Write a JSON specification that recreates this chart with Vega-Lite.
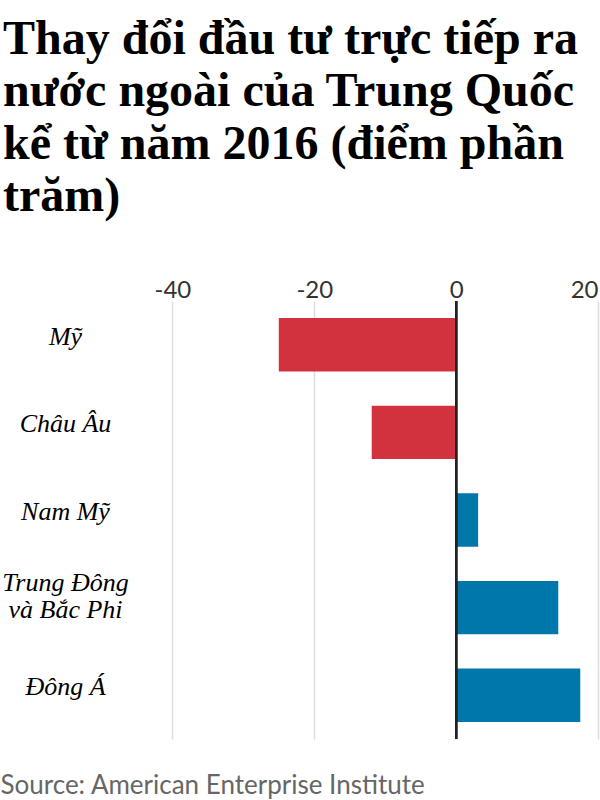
{
  "$schema": "https://vega.github.io/schema/vega-lite/v6.json",
  "autosize": {"type": "none"},
  "padding": {"left": 144, "top": 301, "right": 2, "bottom": 61},
  "width": 454,
  "height": 438,
  "background": "white",
  "config": {"view": {"stroke": null}},
  "title": {
    "text": ["Thay đổi đầu tư trực tiếp ra", "nước ngoài của Trung Quốc", "kể từ năm 2016 (điểm phần", "trăm)"],
    "font": "Liberation Serif",
    "fontSize": 48,
    "fontWeight": "bold",
    "color": "#000000",
    "lineHeight": 52.5,
    "anchor": "start",
    "frame": "group",
    "dx": -141,
    "dy": -37,
    "offset": 20
  },
  "data": {
    "values": [
      {"region": "Mỹ", "change": -25},
      {"region": "Châu Âu", "change": -11.9},
      {"region": "Nam Mỹ", "change": 3.1},
      {"region": "Trung Đông và Bắc Phi", "change": 14.4},
      {"region": "Đông Á", "change": 17.5}
    ]
  },
  "layer": [
    {
      "mark": {"type": "bar"},
      "encoding": {
        "y": {
          "field": "region",
          "type": "nominal",
          "sort": null,
          "scale": {"paddingInner": 0.39, "paddingOuter": 0.195},
          "axis": {
            "orient": "left",
            "title": null,
            "domain": false,
            "ticks": false,
            "tickSize": 0,
            "grid": false,
            "labelAlign": "center",
            "labelBaseline": "alphabetic",
            "labelPadding": 79,
            "labelFont": "Liberation Serif",
            "labelFontStyle": "italic",
            "labelFontSize": 26,
            "labelColor": "#000000",
            "labelLimit": 0,
            "labelLineHeight": 27,
            "labelExpr": "datum.label == 'Trung Đông và Bắc Phi' ? ['Trung Đông', 'và Bắc Phi'] : datum.label",
            "labelOffset": {"condition": {"test": "datum.label == 'Trung Đông và Bắc Phi'", "value": -17}, "value": 0}
          }
        },
        "x": {
          "field": "change",
          "type": "quantitative",
          "scale": {"domain": [-44, 20], "nice": false},
          "axis": {
            "orient": "top",
            "title": null,
            "values": [-40, -20, 0, 20],
            "domain": false,
            "ticks": false,
            "tickSize": 0,
            "grid": true,
            "gridColor": "#dddddd",
            "gridWidth": 1.5,
            "labelExpr": "'' + datum.value",
            "labelFont": "Lato",
            "labelFontSize": 24,
            "labelColor": "#333333",
            "labelBaseline": "alphabetic",
            "labelPadding": 4,
            "labelFlush": true
          }
        },
        "color": {
          "condition": {"test": "datum.change < 0", "value": "#d1323e"},
          "value": "#0077ab"
        }
      }
    },
    {
      "mark": {"type": "rule", "color": "#222222", "strokeWidth": 2.2},
      "encoding": {
        "x": {
          "datum": 0,
          "type": "quantitative",
          "axis": {
            "orient": "bottom",
            "title": "Source: American Enterprise Institute",
            "labels": false,
            "ticks": false,
            "domain": false,
            "grid": false,
            "titleFont": "Lato",
            "titleFontSize": 26,
            "titleFontWeight": "normal",
            "titleColor": "#666666",
            "titleAlign": "left",
            "titleBaseline": "alphabetic",
            "titleX": -144,
            "titleY": 54
          }
        }
      }
    }
  ],
  "resolve": {"axis": {"x": "independent"}}
}
